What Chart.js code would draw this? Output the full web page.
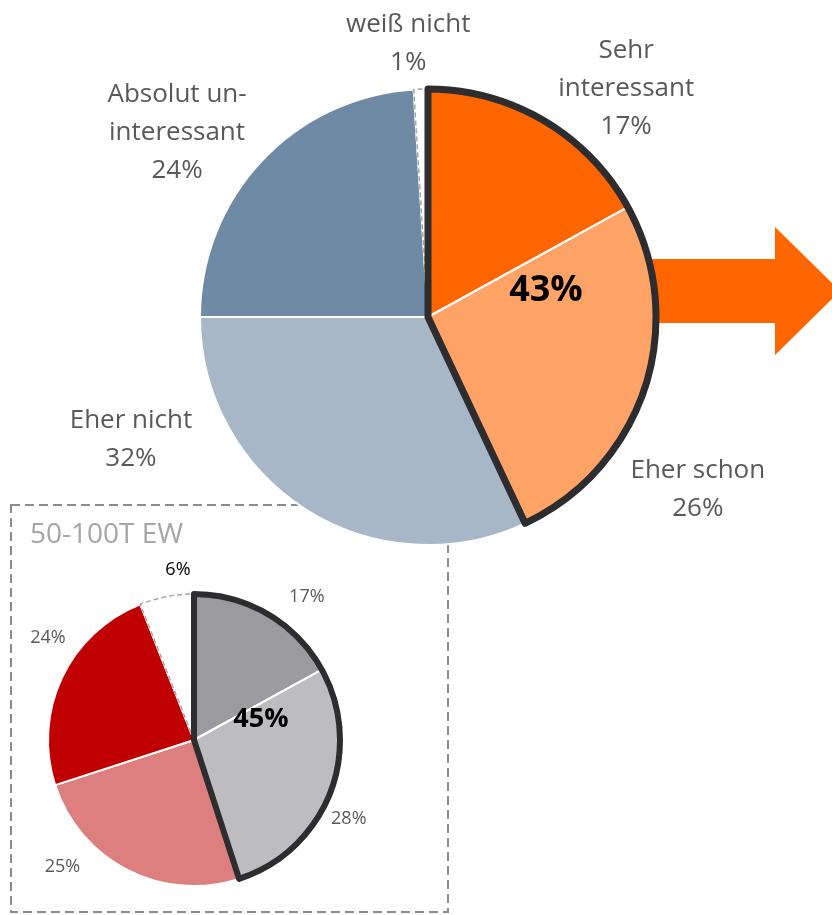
<!DOCTYPE html>
<html lang="de">
<head>
<meta charset="UTF-8">
<title>Interesse</title>
<script src="https://cdn.jsdelivr.net/npm/chart.js"></script>
<style>
  body { margin: 0; background: #fff; }
  #page { position: relative; width: 832px; height: 915px; overflow: hidden; }
  #smallWrap { position: absolute; left: 0; top: 495px; }
  #bigWrap { position: absolute; left: 0; top: 0; pointer-events: none; }
</style>
</head>
<body>
<div id="page">
  <div id="smallWrap"><canvas id="smallChart" width="460" height="420"></canvas></div>
  <div id="bigWrap"><canvas id="bigChart" width="832" height="915"></canvas></div>
</div>
<script>
// Gesamt
const bigLabels = [['Sehr', 'interessant'], ['Eher schon'], ['Eher nicht'], ['Absolut un-', 'interessant'], ['weiß nicht']];
const bigValues = [17, 26, 32, 24, 1];
const bigColors = ['#ff6600', '#ffa366', '#a7b7c8', '#6f8aa4', '#ffffff'];

// 50-100T EW
const smallTitle = '50-100T EW';
const smallValues = [17, 28, 25, 24, 6];
const smallColors = ['#9b9b9d', '#bdbdbf', '#de7f7f', '#c00000', '#ffffff'];

// label positions: [degrees clockwise from top, distance in radii]
const bigLabelPos = [[40.7, 1.333], [122.3, 1.40], [247.9, 1.406], [306.6, 1.371], [355.9, 1.211]];
const smallLabelPos = [[38.3, 1.247], [117, 1.19], [226.1, 1.25], [304.9, 1.22], [354.6, 1.17]];

const FONT = '"Open Sans", "Noto Sans", sans-serif';
const GREY = '#595959';

function polar(x, y, r, deg) {
  const a = deg * Math.PI / 180 - Math.PI / 2;
  return [x + r * Math.cos(a), y + r * Math.sin(a)];
}

function pieExtras(o) {
  return {
    id: 'pieExtras',
    beforeDraw(chart) { if (o.background) o.background(chart.ctx); },
    afterDatasetsDraw(chart) {
      const ctx = chart.ctx;
      const arcs = chart.getDatasetMeta(0).data;
      const {x, y, outerRadius: r} = arcs[0];
      const last = arcs[arcs.length - 1];

      // dashed edge of the white "weiß nicht" slice
      ctx.save();
      ctx.strokeStyle = '#a6a6a6';
      ctx.lineWidth = 1.5;
      ctx.setLineDash([5, 3]);
      ctx.beginPath();
      ctx.moveTo(x, y);
      ctx.lineTo(x + r * Math.cos(last.startAngle), y + r * Math.sin(last.startAngle));
      ctx.arc(x, y, r, last.startAngle, last.endAngle);
      ctx.stroke();
      ctx.restore();

      // outline round the two positive answers
      ctx.save();
      ctx.strokeStyle = '#2d2d2f';
      ctx.lineWidth = o.outline;
      ctx.lineJoin = 'round';
      ctx.beginPath();
      ctx.moveTo(x, y);
      ctx.arc(x, y, r, arcs[0].startAngle, arcs[1].endAngle);
      ctx.closePath();
      ctx.stroke();

      // sum of the positive answers
      const values = chart.data.datasets[0].data;
      const sum = values[0] + values[1];
      const [sx, sy] = polar(x, y, r * o.sumDist, o.sumAngle);
      ctx.fillStyle = '#000';
      ctx.font = 'bold ' + o.sumSize + 'px ' + FONT;
      ctx.textAlign = 'center';
      ctx.textBaseline = 'middle';
      ctx.fillText(sum + '%', sx, sy);

      // slice labels
      ctx.font = o.labelSize + 'px ' + FONT;
      ctx.textBaseline = 'alphabetic';
      values.forEach((v, i) => {
        const lines = (o.names ? o.names[i].slice() : []);
        lines.push(v + '%');
        const [lx, ly] = polar(x, y, r * o.pos[i][1], o.pos[i][0]);
        const lh = o.lineHeight;
        ctx.fillStyle = (o.labelColors && o.labelColors[i]) || GREY;
        lines.forEach((t, j) => {
          ctx.fillText(t, lx, ly - lines.length * lh / 2 + (j + 0.75) * lh);
        });
      });
      ctx.restore();
    }
  };
}

function pieOptions(padding) {
  return {
    responsive: false,
    animation: false,
    events: [],
    layout: { padding: padding },
    plugins: { legend: { display: false }, tooltip: { enabled: false } }
  };
}

// big pie
new Chart(document.getElementById('bigChart'), {
  type: 'pie',
  data: {
    labels: bigLabels.map(l => l.join(' ')),
    datasets: [{ data: bigValues, backgroundColor: bigColors, borderColor: '#ffffff', borderWidth: 2 }]
  },
  options: pieOptions({ left: 199, top: 88, right: 175, bottom: 369 }),
  plugins: [pieExtras({
    outline: 7, sumSize: 36, sumDist: 0.53, sumAngle: 77.4,
    labelSize: 26, lineHeight: 38, names: bigLabels, pos: bigLabelPos,
    background(ctx) {
      // arrow to the right
      ctx.save();
      ctx.fillStyle = '#ff6600';
      ctx.beginPath();
      ctx.moveTo(600, 259);
      ctx.lineTo(775, 259);
      ctx.lineTo(775, 227);
      ctx.lineTo(840, 291);
      ctx.lineTo(775, 355);
      ctx.lineTo(775, 323);
      ctx.lineTo(600, 323);
      ctx.closePath();
      ctx.fill();
      ctx.restore();
    }
  })]
});

// small pie in dashed box
new Chart(document.getElementById('smallChart'), {
  type: 'pie',
  data: {
    labels: bigLabels.map(l => l.join(' ')),
    datasets: [{ data: smallValues, backgroundColor: smallColors, borderColor: '#ffffff', borderWidth: 2 }]
  },
  options: pieOptions({ left: 47, top: 97, right: 119, bottom: 27 }),
  plugins: [pieExtras({
    outline: 6, sumSize: 27, sumDist: 0.48, sumAngle: 72.6,
    labelSize: 18, lineHeight: 20, pos: smallLabelPos,
    labelColors: [null, null, null, null, '#000'],
    background(ctx) {
      ctx.save();
      ctx.strokeStyle = '#8c8c8c';
      ctx.lineWidth = 2;
      ctx.setLineDash([9, 5]);
      ctx.strokeRect(11, 10, 437, 407);
      ctx.fillStyle = '#a6a6a6';
      ctx.font = '28px ' + FONT;
      ctx.textBaseline = 'alphabetic';
      ctx.fillText(smallTitle, 30, 48);
      ctx.restore();
    }
  })]
});
</script>
</body>
</html>
